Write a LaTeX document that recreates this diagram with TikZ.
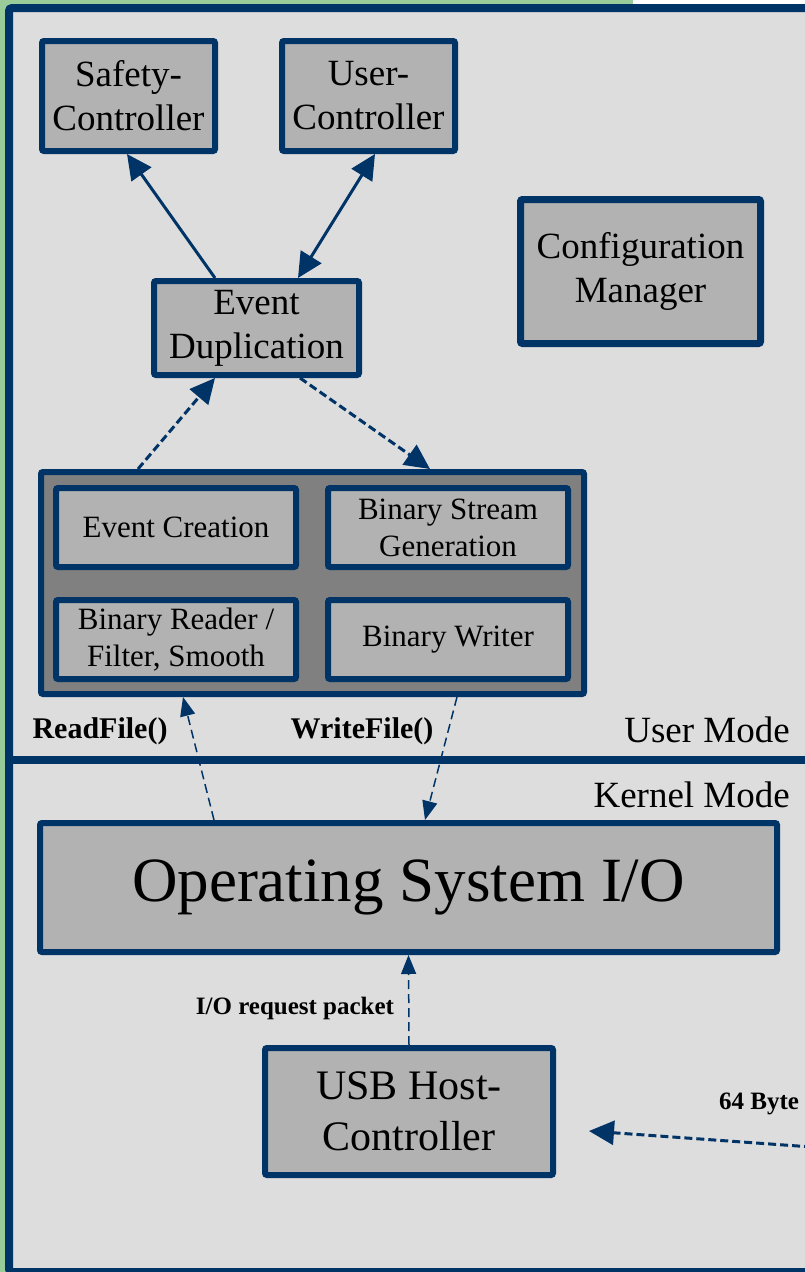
\documentclass[tikz,border=0pt]{standalone}
\usepackage{fontspec}
\setmainfont{Liberation Serif}
\usetikzlibrary{arrows.meta}
\definecolor{navy}{HTML}{003366}
\definecolor{boxgray}{HTML}{B2B2B2}
\definecolor{grpgray}{HTML}{808080}
\definecolor{bggray}{HTML}{DDDDDD}
\definecolor{leaf}{HTML}{99CC99}
\begin{document}
\begin{tikzpicture}[x=1pt,y=-1pt,
    blk/.style={draw=navy,line width=6pt,fill=boxgray,rounded corners=2pt,align=center,inner sep=0pt},
    big/.style={font=\fontsize{37}{44}\selectfont},
    small/.style={font=\fontsize{31}{37}\selectfont},
    lbl/.style={font=\fontsize{30}{34}\selectfont\bfseries,inner sep=0pt},
    mode/.style={font=\fontsize{37}{44}\selectfont,inner sep=0pt,anchor=east},
    flow/.style={navy,line width=3pt,-{Triangle[length=25pt,width=24pt]}},
    call/.style={navy,line width=1.5pt,dash pattern=on 9pt off 5pt,-{Triangle[length=19pt,width=15pt]}}]
    \useasboundingbox (0,0) rectangle (804,1272);
    \fill[leaf] (0,0) rectangle (804,1272); %Hintergrund
    \fill[white] (633,0) rectangle (804,4);
    \draw[navy,line width=8pt,fill=bggray,rounded corners=3pt] (9,8) rectangle (812,1272); %Rahmen
    \draw[navy,line width=8pt] (9,760) -- (812,760); %User/Kernel
    % Benutzermodus
    \node[blk,big,minimum width=173,minimum height=110] (safety) at (128.5,96) {Safety-\\Controller};
    \node[blk,big,minimum width=173,minimum height=110] (user) at (368.5,96) {User-\\Controller};
    \node[blk,big,line width=7pt,minimum width=240,minimum height=144] (config) at (640.5,271.5) {Configuration\\Manager};
    \node[blk,big,minimum width=205,minimum height=94] (evdup) at (256.5,328) {Event\\Duplication};
    \node[blk,fill=grpgray,minimum width=543,minimum height=222] (group) at (312.5,583) {};
    \node[blk,small,minimum width=240,minimum height=79] (evcreate) at (176,527.5) {Event Creation};
    \node[blk,small,minimum width=240,minimum height=79] (stream) at (448,527.5) {Binary Stream\\Generation};
    \node[blk,small,minimum width=240,minimum height=79] (reader) at (176,639.5) {Binary Reader /\\Filter, Smooth};
    \node[blk,small,minimum width=240,minimum height=79] (writer) at (448,639.5) {Binary Writer};
    \node[lbl] (readf) at (100,731) {ReadFile()};
    \node[lbl] (writef) at (362,731) {WriteFile()};
    \node[mode] (umode) at (790,730) {User Mode};
    \node[mode] (kmode) at (790,795) {Kernel Mode};
    % Kernelmodus
    \node[blk,font=\fontsize{63}{70}\selectfont,minimum width=737,minimum height=129] (osio) at (408.5,887.5) {Operating System I/O};
    \node[blk,font=\fontsize{42}{51}\selectfont,minimum width=288,minimum height=127] (usb) at (409,1111.5) {USB Host-\\Controller};
    \node[lbl,font=\fontsize{25}{30}\selectfont\bfseries] (irp) at (295,1008) {I/O request packet};
    \node[lbl,font=\fontsize{25}{30}\selectfont\bfseries] (bytes) at (759,1104) {64 Byte};
    \coordinate (dev) at (812,1147);
    % Verbindungen
    \draw[flow] ([xshift=-41.5pt]evdup.north) -- ([xshift=-1.5pt]safety.south);
    \draw[flow,{Triangle[length=25pt,width=24pt]}-{Triangle[length=25pt,width=24pt]}] ([xshift=41.5pt]evdup.north) -- ([xshift=6.5pt]user.south);
    \draw[flow,dash pattern=on 8pt off 4pt] ([xshift=-174.5pt]group.north) -- ([xshift=-41.5pt]evdup.south);
    \draw[flow,dash pattern=on 8pt off 4pt] ([xshift=43.5pt]evdup.south) -- ([xshift=117.5pt]group.north);
    \draw[call] ([xshift=-194.5pt]osio.north) -- ([xshift=-129.5pt]group.south);
    \draw[call] ([xshift=144.5pt]group.south) -- ([xshift=16.5pt]osio.north);
    \draw[call] (usb.north) -- (osio.south);
    \draw[flow,dash pattern=on 8pt off 4pt] (dev) -- ([xshift=33pt,yshift=-19.5pt]usb.east);
\end{tikzpicture}
\end{document}
